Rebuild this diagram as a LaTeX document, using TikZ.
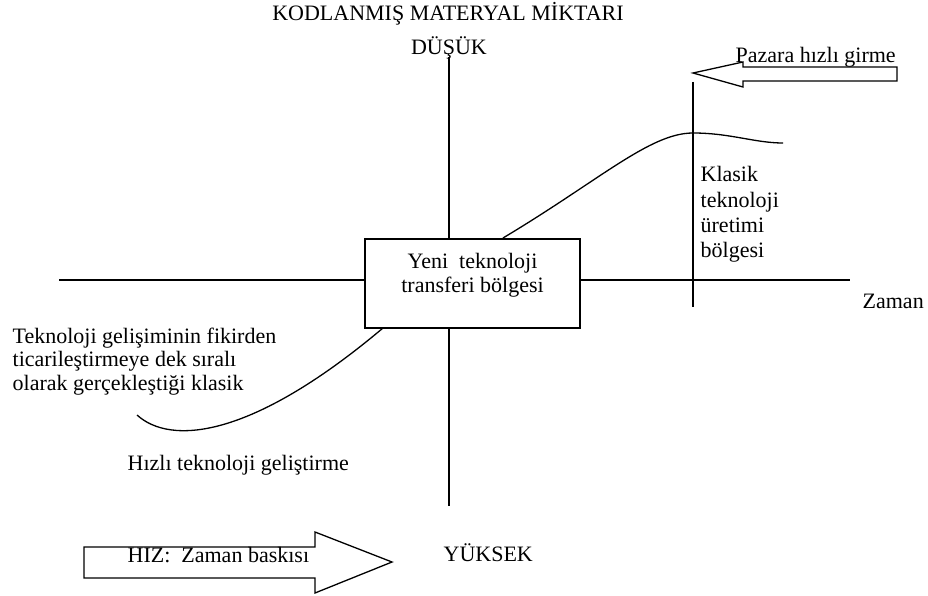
\documentclass[tikz,border=0pt]{standalone}
\usepackage{fontspec}
\setmainfont{Liberation Serif}
\begin{document}
\begin{tikzpicture}[x=1pt,y=-1pt,line width=1.3pt,
  every node/.style={font=\fontsize{22}{24}\selectfont,inner sep=0pt},
  lbl/.style={anchor=base west},
  ctr/.style={anchor=base},
  bigarrow/.style={draw,line width=1.3pt,fill=white,line join=miter}]
\useasboundingbox (0,0) rectangle (928,596);
% axes
\coordinate (vt) at (449,57);
\coordinate (vb) at (449,506);
\coordinate (hl) at (59,280);
\coordinate (hr) at (850,280);
\draw (vt) -- (vb);
\draw (hl) -- (hr);
% right divider
\coordinate (rt) at (693,82);
\coordinate (rb) at (693,307);
\draw (rt) -- (rb);
% curves
\coordinate (c1) at (137,415);
\coordinate (c2) at (383,328);
\coordinate (c3) at (503,238);
\coordinate (c4) at (693,133);
\coordinate (c5) at (783,143);
\draw (c1) .. controls (170,445) and (250,440) .. (c2);
\draw (c3) .. controls (600,180) and (650,133) .. (c4)
           .. controls (730,133) and (755,143) .. (c5);
% central box
\node[draw,fill=white,line width=1.3pt,minimum width=215pt,minimum height=89pt] (box) at (472.5,283.5) {};
\node[ctr] (box1) at (472.5,268) {Yeni\ \ teknoloji};
\node[ctr] (box2) at (472.5,292) {transferi bölgesi};
% labels
\node[ctr] (title) at (448,21) {KODLANMIŞ MATERYAL MİKTARI};
\node[ctr] (low) at (449,55) {DÜŞÜK};
\node[lbl] (high) at (443,561) {YÜKSEK};
\node[lbl] (kl1) at (700,182) {Klasik};
\node[lbl] (kl2) at (700,207) {teknoloji};
\node[lbl] (kl3) at (700,232) {üretimi};
\node[lbl] (kl4) at (700,257) {bölgesi};
\node[lbl] (zaman) at (862,308) {Zaman};
\node[lbl] (tk1) at (12,343) {Teknoloji gelişiminin fikirden};
\node[lbl] (tk2) at (12,366.5) {ticarileştirmeye dek sıralı};
\node[lbl] (tk3) at (12,390) {olarak gerçekleştiği klasik};
\node[lbl] (hizli) at (127,470) {Hızlı teknoloji geliştirme};
% top arrow
\draw[bigarrow] (693,73) -- (743,62) -- (743,67) -- (897,67) -- (897,81) -- (743,81) -- (743,87) -- cycle;
\node[lbl] (pazar) at (735,63) {Pazara hızlı girme};
% bottom arrow
\draw[bigarrow] (84,547) -- (315,547) -- (315,532) -- (392,562) -- (315,593) -- (315,578) -- (84,578) -- cycle;
\node[lbl] (hiz) at (127,562) {HIZ:\ \ Zaman baskısı};
\end{tikzpicture}
\end{document}
